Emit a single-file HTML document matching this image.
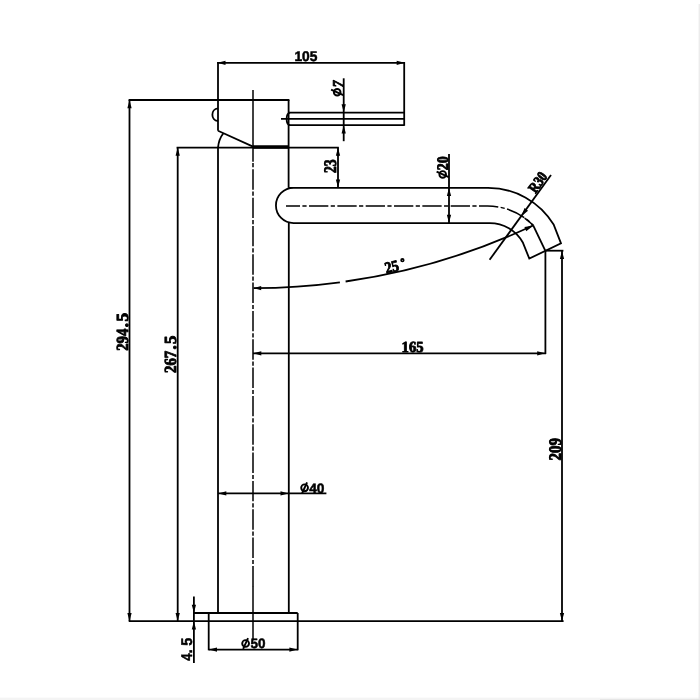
<!DOCTYPE html>
<html><head><meta charset="utf-8"><title>Faucet dimensions</title>
<style>html,body{margin:0;padding:0;background:#fff}svg{display:block;filter:grayscale(1)}</style></head>
<body><svg width="700" height="700" viewBox="0 0 700 700" stroke="#000" fill="none" stroke-linecap="butt" stroke-linejoin="miter">
<rect width="700" height="700" fill="#fff" stroke="none"/>
<rect x="0" y="697.6" width="700" height="2.4" fill="#f4f4f4" stroke="none"/>
<rect x="698.6" y="4" width="1.4" height="696" fill="#ececec" stroke="none"/>
<rect x="600" y="699" width="100" height="1" fill="#e6e6e6" stroke="none"/>
<line x1="217.2" y1="62.8" x2="405" y2="62.8" stroke-width="1.8" />
<line x1="218" y1="62" x2="218" y2="130.7" stroke-width="1.8" />
<line x1="404.2" y1="62" x2="404.2" y2="125.8" stroke-width="1.8" />
<polygon points="217.50,62.80 225.50,60.65 225.50,64.95" fill="#000" stroke="none"/>
<polygon points="404.70,62.80 396.70,64.95 396.70,60.65" fill="#000" stroke="none"/>
<line x1="128.6" y1="100" x2="289.4" y2="100" stroke-width="1.8" />
<line x1="288.6" y1="100" x2="288.6" y2="187.9" stroke-width="1.8" />
<line x1="218" y1="130.7" x2="253" y2="146.6" stroke-width="1.8" />
<line x1="253" y1="147" x2="288.6" y2="147" stroke-width="3.3" />
<path d="M218,108.4 C210.5,109 210.5,120.4 218,121" stroke-width="1.8" fill="none" />
<line x1="289" y1="112.6" x2="404.2" y2="112.6" stroke-width="1.8" />
<line x1="281" y1="118.9" x2="404.2" y2="118.9" stroke-width="1.8" />
<line x1="289" y1="125.2" x2="404.2" y2="125.2" stroke-width="1.8" />
<path d="M290,112.6 C285.5,113.5 285.5,124.3 290,125.2" stroke-width="1.8" fill="none" />
<line x1="343.7" y1="78.3" x2="343.7" y2="141.2" stroke-width="1.8" />
<polygon points="343.70,112.20 341.55,104.20 345.85,104.20" fill="#000" stroke="none"/>
<polygon points="343.70,125.60 345.85,133.60 341.55,133.60" fill="#000" stroke="none"/>
<line x1="176.6" y1="147.6" x2="338.8" y2="147.6" stroke-width="1.8" />
<line x1="218" y1="147.6" x2="218" y2="613" stroke-width="1.8" />
<line x1="288.8" y1="223" x2="288.8" y2="613" stroke-width="1.8" />
<path d="M218,147.6 C218.5,142 220,137.5 223.4,133.2" stroke-width="1.8" fill="none" />
<path d="M288.8,187.8 H487 A77,77 0 0 1 553.8,224.8 L561,243.3 L529.3,258.6 L523,242.8 A37.9,37.9 0 0 0 489.3,223.1 H293.6 A17.65,17.65 0 0 1 293.6,187.8" stroke-width="1.8" fill="none" />
<path d="M286,206 H487.2 A63.6,63.6 0 0 1 533.4,225.6" stroke-width="1.5" fill="none" stroke-dasharray="19.3 2.4 4.2 2.43" stroke-dashoffset="5.3"/>
<path d="M524.6,218.1 A63.6,63.6 0 0 1 533.4,225.6" stroke-width="1.5" fill="none" />
<line x1="533.3" y1="225.6" x2="545.4" y2="250.8" stroke-width="1.8" />
<line x1="338" y1="147.6" x2="338" y2="187.8" stroke-width="1.8" />
<polygon points="338.00,147.80 340.15,155.80 335.85,155.80" fill="#000" stroke="none"/>
<polygon points="338.00,187.60 335.85,179.60 340.15,179.60" fill="#000" stroke="none"/>
<line x1="449" y1="154" x2="449" y2="223.2" stroke-width="1.8" />
<polygon points="449.00,188.00 451.15,196.00 446.85,196.00" fill="#000" stroke="none"/>
<polygon points="449.00,222.80 446.85,214.80 451.15,214.80" fill="#000" stroke="none"/>
<line x1="253" y1="90" x2="253" y2="161.7" stroke-width="1.5" />
<line x1="253" y1="162.9" x2="253" y2="167.3" stroke-width="1.5" />
<line x1="253" y1="169.3" x2="253" y2="587" stroke-width="1.5" stroke-dasharray="20.4 1.9 4.2 1.83"/>
<line x1="253" y1="586" x2="253" y2="639" stroke-width="1.5" />
<path d="M253.7,288.1 A657.2,657.2 0 0 0 339.9,282.3 M345.6,281.5 A657.2,657.2 0 0 0 533.4,225.3" stroke-width="1.8" fill="none" />
<polygon points="253.20,288.10 261.20,285.95 261.20,290.25" fill="#000" stroke="none"/>
<polygon points="533.60,225.50 526.21,231.13 524.42,226.90" fill="#000" stroke="none"/>
<line x1="489.6" y1="259.8" x2="551" y2="175" stroke-width="1.8" />
<polygon points="521.30,216.30 524.50,208.12 528.07,210.71" fill="#000" stroke="none"/>
<line x1="253" y1="353.3" x2="546" y2="353.3" stroke-width="1.8" />
<line x1="545.4" y1="250.8" x2="545.4" y2="354" stroke-width="1.8" />
<polygon points="253.30,353.30 261.30,351.15 261.30,355.45" fill="#000" stroke="none"/>
<polygon points="545.20,353.30 537.20,355.45 537.20,351.15" fill="#000" stroke="none"/>
<line x1="545.4" y1="250.7" x2="563.4" y2="250.7" stroke-width="1.8" />
<line x1="562" y1="250.7" x2="562" y2="621.2" stroke-width="1.8" />
<polygon points="562.00,251.00 564.15,259.00 559.85,259.00" fill="#000" stroke="none"/>
<polygon points="562.00,621.00 559.85,613.00 564.15,613.00" fill="#000" stroke="none"/>
<line x1="128.8" y1="621.2" x2="563.6" y2="621.2" stroke-width="1.8" />
<line x1="129.5" y1="100" x2="129.5" y2="621.2" stroke-width="1.8" />
<polygon points="129.50,100.20 131.65,108.20 127.35,108.20" fill="#000" stroke="none"/>
<polygon points="129.50,621.00 127.35,613.00 131.65,613.00" fill="#000" stroke="none"/>
<line x1="177.7" y1="147.6" x2="177.7" y2="621.2" stroke-width="1.8" />
<polygon points="177.70,147.80 179.85,155.80 175.55,155.80" fill="#000" stroke="none"/>
<polygon points="177.70,621.00 175.55,613.00 179.85,613.00" fill="#000" stroke="none"/>
<line x1="193.9" y1="596.4" x2="193.9" y2="662.9" stroke-width="1.8" />
<line x1="193.9" y1="613" x2="297.7" y2="613" stroke-width="1.8" />
<polygon points="193.90,612.80 191.75,604.80 196.05,604.80" fill="#000" stroke="none"/>
<polygon points="193.90,621.50 196.05,629.50 191.75,629.50" fill="#000" stroke="none"/>
<line x1="208.7" y1="613" x2="208.7" y2="650.3" stroke-width="1.8" />
<line x1="297.7" y1="613" x2="297.7" y2="650.3" stroke-width="1.8" />
<line x1="208.7" y1="649.6" x2="297.7" y2="649.6" stroke-width="1.8" />
<polygon points="209.00,649.60 217.00,647.45 217.00,651.75" fill="#000" stroke="none"/>
<polygon points="297.40,649.60 289.40,651.75 289.40,647.45" fill="#000" stroke="none"/>
<line x1="218" y1="493.4" x2="326.4" y2="493.4" stroke-width="1.8" />
<polygon points="218.30,493.40 226.30,491.25 226.30,495.55" fill="#000" stroke="none"/>
<polygon points="288.50,493.40 280.50,495.55 280.50,491.25" fill="#000" stroke="none"/>
<text transform="translate(294.4,60.7) rotate(0)" text-rendering="geometricPrecision" font-family="Liberation Sans" font-size="14" font-weight="bold" text-anchor="start" stroke="#000" stroke-width="0.5" stroke-linejoin="round" fill="#000" textLength="23" lengthAdjust="spacingAndGlyphs" >105</text>
<text transform="translate(401.6,351.5) rotate(0)" text-rendering="geometricPrecision" font-family="Liberation Serif" font-size="15.4" font-weight="bold" text-anchor="start" stroke="#000" stroke-width="0.9" stroke-linejoin="round" fill="#000" textLength="22" lengthAdjust="spacingAndGlyphs" >165</text>
<text transform="translate(336.3,173) rotate(-90)" text-rendering="geometricPrecision" font-family="Liberation Serif" font-size="17.6" font-weight="bold" text-anchor="start" stroke="#000" stroke-width="0.9" stroke-linejoin="round" fill="#000" textLength="13.7" lengthAdjust="spacingAndGlyphs" >23</text>
<text transform="translate(560.6,460.4) rotate(-90)" text-rendering="geometricPrecision" font-family="Liberation Serif" font-size="17.6" font-weight="bold" text-anchor="start" stroke="#000" stroke-width="0.9" stroke-linejoin="round" fill="#000" textLength="22.5" lengthAdjust="spacingAndGlyphs" >209</text>
<text transform="translate(128.2,350.8) rotate(-90)" text-rendering="geometricPrecision" font-family="Liberation Serif" font-size="17" font-weight="bold" text-anchor="start" stroke="#000" stroke-width="0.9" stroke-linejoin="round" fill="#000" textLength="22.2" lengthAdjust="spacingAndGlyphs" >294</text>
<text transform="translate(128.2,327.3) rotate(-90)" text-rendering="geometricPrecision" font-family="Liberation Serif" font-size="17" font-weight="bold" text-anchor="start" stroke="#000" stroke-width="0.9" stroke-linejoin="round" fill="#000" >.</text>
<text transform="translate(128.2,321.6) rotate(-90)" text-rendering="geometricPrecision" font-family="Liberation Serif" font-size="17" font-weight="bold" text-anchor="start" stroke="#000" stroke-width="0.9" stroke-linejoin="round" fill="#000" textLength="8.6" lengthAdjust="spacingAndGlyphs" >5</text>
<text transform="translate(176.3,373) rotate(-90)" text-rendering="geometricPrecision" font-family="Liberation Serif" font-size="17" font-weight="bold" text-anchor="start" stroke="#000" stroke-width="0.9" stroke-linejoin="round" fill="#000" textLength="22.2" lengthAdjust="spacingAndGlyphs" >267</text>
<text transform="translate(176.3,349.5) rotate(-90)" text-rendering="geometricPrecision" font-family="Liberation Serif" font-size="17" font-weight="bold" text-anchor="start" stroke="#000" stroke-width="0.9" stroke-linejoin="round" fill="#000" >.</text>
<text transform="translate(176.3,344) rotate(-90)" text-rendering="geometricPrecision" font-family="Liberation Serif" font-size="17" font-weight="bold" text-anchor="start" stroke="#000" stroke-width="0.9" stroke-linejoin="round" fill="#000" textLength="8.4" lengthAdjust="spacingAndGlyphs" >5</text>
<text transform="translate(192,660.8) rotate(-90)" text-rendering="geometricPrecision" font-family="Liberation Sans" font-size="15.5" font-weight="bold" text-anchor="start" stroke="#000" stroke-width="0.5" stroke-linejoin="round" fill="#000" textLength="7.4" lengthAdjust="spacingAndGlyphs" >4</text>
<text transform="translate(192,653.4) rotate(-90)" text-rendering="geometricPrecision" font-family="Liberation Sans" font-size="15.5" font-weight="bold" text-anchor="start" stroke="#000" stroke-width="0.5" stroke-linejoin="round" fill="#000" >.</text>
<text transform="translate(192,645.8) rotate(-90)" text-rendering="geometricPrecision" font-family="Liberation Sans" font-size="15.5" font-weight="bold" text-anchor="start" stroke="#000" stroke-width="0.5" stroke-linejoin="round" fill="#000" textLength="8" lengthAdjust="spacingAndGlyphs" >5</text>
<g transform="translate(304.6,487.8) rotate(0)"><circle r="3.4" fill="none" stroke-width="1.9"/><line x1="-2.45" y1="5.44" x2="2.45" y2="-5.44" stroke-width="1.9"/></g>
<text transform="translate(309.2,492.6) rotate(0)" text-rendering="geometricPrecision" font-family="Liberation Sans" font-size="13.6" font-weight="bold" text-anchor="start" stroke="#000" stroke-width="0.5" stroke-linejoin="round" fill="#000" textLength="15.3" lengthAdjust="spacingAndGlyphs" >40</text>
<g transform="translate(245.6,643.5) rotate(0)"><circle r="3.4" fill="none" stroke-width="1.9"/><line x1="-2.45" y1="5.44" x2="2.45" y2="-5.44" stroke-width="1.9"/></g>
<text transform="translate(250.6,648.3) rotate(0)" text-rendering="geometricPrecision" font-family="Liberation Sans" font-size="13.6" font-weight="bold" text-anchor="start" stroke="#000" stroke-width="0.5" stroke-linejoin="round" fill="#000" textLength="15" lengthAdjust="spacingAndGlyphs" >50</text>
<g transform="translate(442.7,174.4) rotate(-90)"><circle r="3.3" fill="none" stroke-width="1.9"/><line x1="-2.75" y1="6.10" x2="2.75" y2="-6.10" stroke-width="1.9"/></g>
<text transform="translate(447.8,170.2) rotate(-90)" text-rendering="geometricPrecision" font-family="Liberation Serif" font-size="16" font-weight="bold" text-anchor="start" stroke="#000" stroke-width="0.9" stroke-linejoin="round" fill="#000" textLength="14" lengthAdjust="spacingAndGlyphs" >20</text>
<g transform="translate(337.2,92.3) rotate(-90)"><circle r="3.3" fill="none" stroke-width="2.0"/><line x1="-2.75" y1="6.10" x2="2.75" y2="-6.10" stroke-width="2.0"/></g>
<text transform="translate(342.8,87.2) rotate(-90)" text-rendering="geometricPrecision" font-family="Liberation Serif" font-size="15" font-weight="bold" text-anchor="start" stroke="#000" stroke-width="0.9" stroke-linejoin="round" fill="#000" textLength="6.6" lengthAdjust="spacingAndGlyphs" font-style="italic">7</text>
<text transform="translate(535.4,193.9) rotate(-54.0933338369755)" text-rendering="geometricPrecision" font-family="Liberation Serif" font-size="15" font-weight="bold" text-anchor="start" stroke="#000" stroke-width="0.9" stroke-linejoin="round" fill="#000" textLength="21.5" lengthAdjust="spacingAndGlyphs" >R30</text>
<text transform="translate(386.2,273.6) rotate(-14)" text-rendering="geometricPrecision" font-family="Liberation Serif" font-size="16" font-weight="bold" text-anchor="start" stroke="#000" stroke-width="0.9" stroke-linejoin="round" fill="#000" textLength="14" lengthAdjust="spacingAndGlyphs" >25</text>
<circle cx="402.4" cy="260.2" r="1.3" fill="none" stroke-width="1.7"/>
</svg></body></html>
